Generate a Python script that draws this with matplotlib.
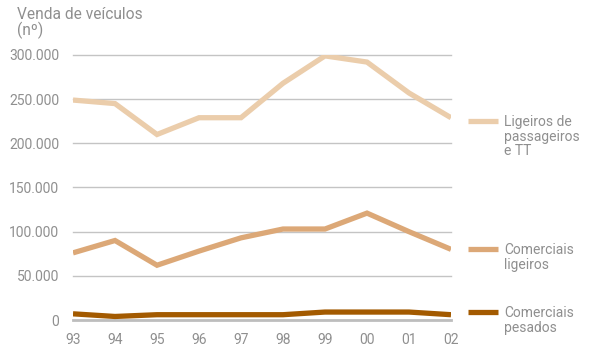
import matplotlib
matplotlib.use('Agg')
import matplotlib.pyplot as plt
from matplotlib.ticker import FuncFormatter

anos = ['93', '94', '95', '96', '97', '98', '99', '00', '01', '02']
ligeiros_passageiros = [249000, 245000, 210000, 229000, 229000, 268000, 299000, 292000, 257000, 229000]
comerciais_ligeiros = [76000, 90000, 62000, 78000, 93000, 103000, 103000, 121000, 100000, 80000]
comerciais_pesados = [7000, 4000, 6000, 6000, 6000, 6000, 9000, 9000, 9000, 6000]
series_labels = ['Ligeiros de\npassageiros\ne TT', 'Comerciais\nligeiros', 'Comerciais\npesados']
yticks = [0, 50000, 100000, 150000, 200000, 250000, 300000]

cores = ['#ebcdab', '#dca877', '#a35a00']
cinza = '#8f8f8f'

plt.rcParams['font.family'] = ['Roboto', 'DejaVu Sans']

fig = plt.figure(figsize=(5.91, 3.49), dpi=100)
ax = fig.add_axes([73/591, 29/349, (451-73)/591, (320-55)/349])

x = range(len(anos))
for ys, c in zip([ligeiros_passageiros, comerciais_ligeiros, comerciais_pesados], cores):
    ax.plot(x, ys, color=c, lw=3.8, solid_capstyle='butt', solid_joinstyle='miter', zorder=3)

ax.set_xlim(0, len(anos) - 1)
ax.set_ylim(0, 300000)
ax.set_yticks(yticks)
ax.yaxis.set_major_formatter(FuncFormatter(lambda v, p: '{:,.0f}'.format(v).replace(',', '.')))
ax.set_xticks(list(x))
ax.set_xticklabels(anos)
for v in yticks:
    ax.axhline(v, color='#c4c4c4' if v else '#bdbdbd', lw=1.0 if v else 2.0, zorder=1, clip_on=False)
for s in ax.spines.values():
    s.set_visible(False)
ax.tick_params(length=0, colors=cinza, labelsize=10)
ax.tick_params(axis='y', pad=10)
ax.tick_params(axis='x', pad=9)

fig.text(17/591, 1 - 7/349, 'Venda de veículos\n(nº)', ha='left', va='top',
         color=cinza, fontsize=11.2, linespacing=0.95)

# legenda manual à direita
leg_px = [121, 249, 312]
for lab, c, py in zip(series_labels, cores, leg_px):
    yf = 1 - py / 349
    fig.add_artist(plt.Line2D([468/591, 498/591], [yf, yf], color=c, lw=3.8, solid_capstyle='butt'))
    fig.text(504/591, yf + 6/349, lab, ha='left', va='top', color=cinza, fontsize=10, linespacing=1.05)

fig.savefig('out.png', dpi=100)
